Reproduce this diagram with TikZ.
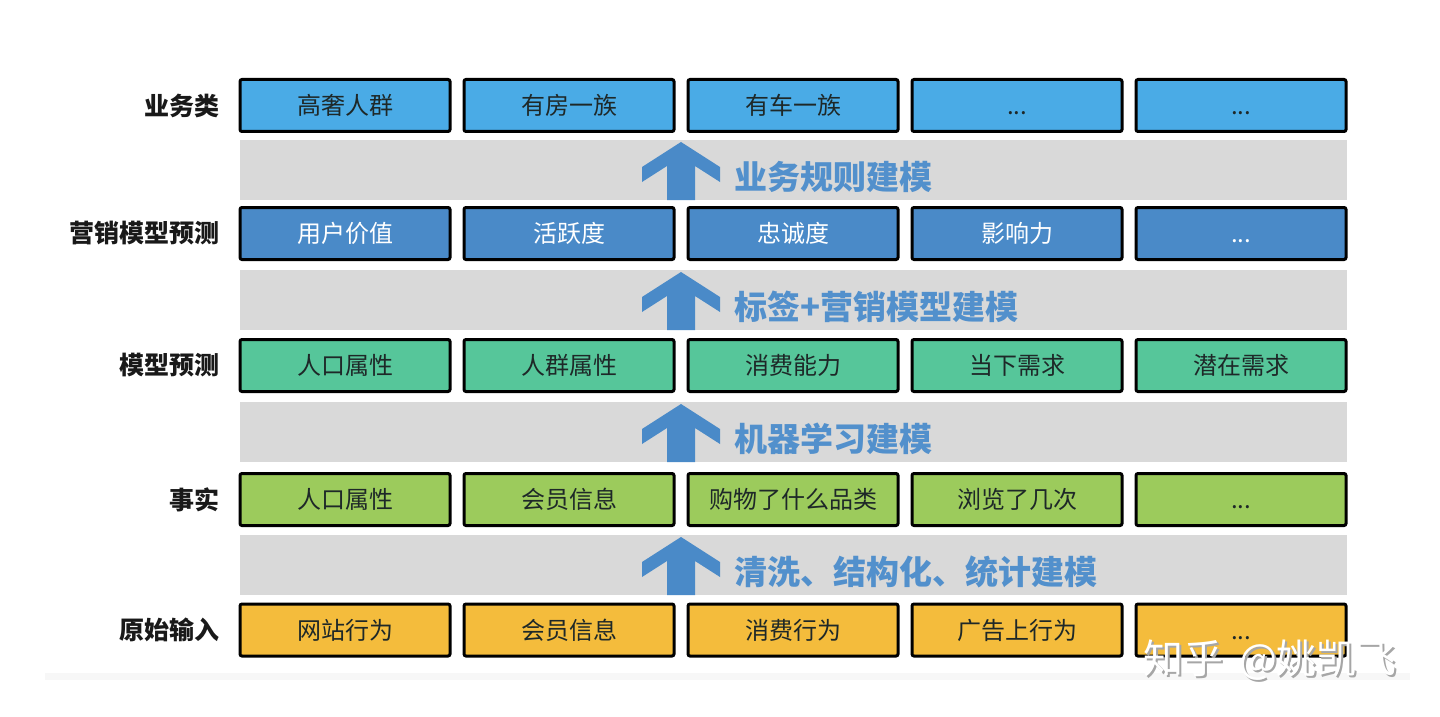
\documentclass[tikz,border=0pt]{standalone}
\usepackage{fontspec}
\setmainfont{Noto Sans CJK SC}
\definecolor{bizblue}{HTML}{4AABE6}
\definecolor{mktblue}{HTML}{4A8AC8}
\definecolor{modgreen}{HTML}{56C69A}
\definecolor{factgreen}{HTML}{9CCB5C}
\definecolor{rawyellow}{HTML}{F4BC3C}
\definecolor{bandgray}{HTML}{D9D9D9}
\definecolor{arrowblue}{HTML}{4A8AC8}
\definecolor{stageblue}{HTML}{5290CC}
\definecolor{darktext}{HTML}{1E2828}
\newcommand\etcdots{\vphantom{人}{.}{.}{.}}
\begin{document}
\begin{tikzpicture}[x=0.5pt,y=-0.5pt,
		cell/.style={draw=black, line width=1.5pt, rounded corners=1pt, minimum width=105pt, minimum height=26pt, inner sep=0pt, font=\fontsize{12}{14}\selectfont},
		rowlabel/.style={anchor=east, inner sep=0pt, font=\fontsize{12.5}{14}\selectfont\bfseries, text=black!90},
		stage/.style={anchor=west, inner sep=0pt, font=\fontsize{16.5}{18}\selectfont\bfseries, text=stageblue}]
	\useasboundingbox (0,0) rectangle (1440,717);
	\fill[black!3] (45,673) rectangle (1410,680);
	% gray bands with arrows
	\foreach \y/\txt/\s in {140/业务规则建模/1, 270/标签+营销模型建模/2, 402/机器学习建模/3, 535/清洗、结构化、统计建模/4} {
		\fill[bandgray] (240,\y) rectangle (1347,\y+60);
		\fill[arrowblue] (681,\y+2) -- (720,\y+27) -- (720,\y+42) -- (695,\y+26) -- (695,\y+60) -- (667,\y+60) -- (667,\y+26) -- (642,\y+42) -- (642,\y+27) -- cycle;
		\node[stage] (stage\s) at (734,\y+37) {\txt};
	}
	% rows of boxes
	\foreach \r/\y/\fc/\tc/\lab/\items in {
			1/105.5/bizblue/darktext/业务类/{高奢人群,有房一族,有车一族,\etcdots,\etcdots},
			2/233.5/mktblue/white/营销模型预测/{用户价值,活跃度,忠诚度,影响力,\etcdots},
			3/365.5/modgreen/darktext/模型预测/{人口属性,人群属性,消费能力,当下需求,潜在需求},
			4/499.5/factgreen/darktext/事实/{人口属性,会员信息,购物了什么品类,浏览了几次,\etcdots},
			5/630/rawyellow/darktext/原始输入/{网站行为,会员信息,消费行为,广告上行为,\etcdots}} {
		\node[rowlabel] (lab\r) at (220,\y) {\lab};
		\foreach \t [count=\c] in \items {
			\node[cell, fill=\fc, text=\tc] (r\r c\c) at (345+224*\c-224,\y) {\t};
		}
	}
	% watermark
	\node[font=\fontsize{20}{22}\selectfont, text=black!35] (wmshadow) at (1272,662) {知乎\hspace{0.4em}@姚凯飞};
	\node[font=\fontsize{20}{22}\selectfont, text=white] (wm) at (1270,660) {知乎\hspace{0.4em}@姚凯飞};
\end{tikzpicture}
\end{document}
